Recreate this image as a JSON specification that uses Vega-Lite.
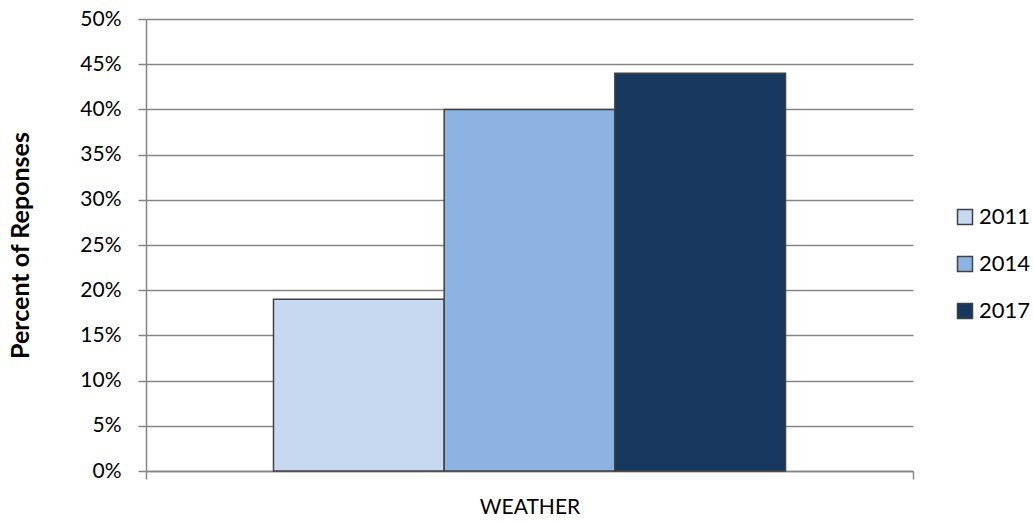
{
  "$schema": "https://vega.github.io/schema/vega-lite/v6.json",
  "width": 767,
  "height": 452,
  "autosize": {"type": "none"},
  "padding": {"left": 146, "top": 19, "right": 120, "bottom": 50},
  "background": "white",
  "config": {
    "view": {"stroke": null},
    "font": "Lato",
    "axis": {"labelFont": "Lato", "titleFont": "Lato", "labelColor": "#000", "titleColor": "#000"},
    "legend": {"labelFont": "Lato"}
  },
  "data": {
    "values": [
      {"category": "WEATHER", "year": "2011", "value": 0.19},
      {"category": "WEATHER", "year": "2014", "value": 0.40},
      {"category": "WEATHER", "year": "2017", "value": 0.44}
    ]
  },
  "mark": {"type": "bar", "stroke": "#404040", "strokeWidth": 1.5},
  "encoding": {
    "x": {
      "field": "category", "type": "nominal",
      "scale": {"paddingInner": 0, "paddingOuter": 0},
      "axis": {
        "title": null, "labelAngle": 0, "labelFontSize": 21, "labelPadding": 17,
        "domainColor": "#868686", "domainWidth": 1.5,
        "tickColor": "#868686", "tickSize": 8, "tickWidth": 1.5, "tickBand": "extent"
      }
    },
    "xOffset": {
      "field": "year", "type": "nominal",
      "scale": {"paddingInner": 0, "paddingOuter": 0.747}
    },
    "y": {
      "field": "value", "type": "quantitative",
      "scale": {"domain": [0, 0.5]},
      "axis": {
        "title": "Percent of Reponses", "titleFontSize": 25, "titleFontWeight": "bold", "titlePadding": 46,
        "format": ".0%", "values": [0, 0.05, 0.1, 0.15, 0.2, 0.25, 0.3, 0.35, 0.4, 0.45, 0.5],
        "labelFontSize": 21, "labelPadding": 17,
        "grid": true, "gridColor": "#868686", "gridWidth": 1.5,
        "domainColor": "#868686", "domainWidth": 1.5,
        "tickColor": "#868686", "tickSize": 8, "tickWidth": 1.5
      }
    },
    "color": {
      "field": "year", "type": "nominal",
      "scale": {"domain": ["2011", "2014", "2017"], "range": ["#c6d9f1", "#8db3e2", "#17375e"]},
      "legend": {
        "title": null, "orient": "none", "legendX": 808, "legendY": 187,
        "symbolType": "square", "symbolSize": 225, "symbolStrokeColor": "#404040", "symbolStrokeWidth": 1.5,
        "labelFontSize": 22, "labelColor": "#000", "rowPadding": 25, "labelOffset": 3
      }
    }
  }
}
